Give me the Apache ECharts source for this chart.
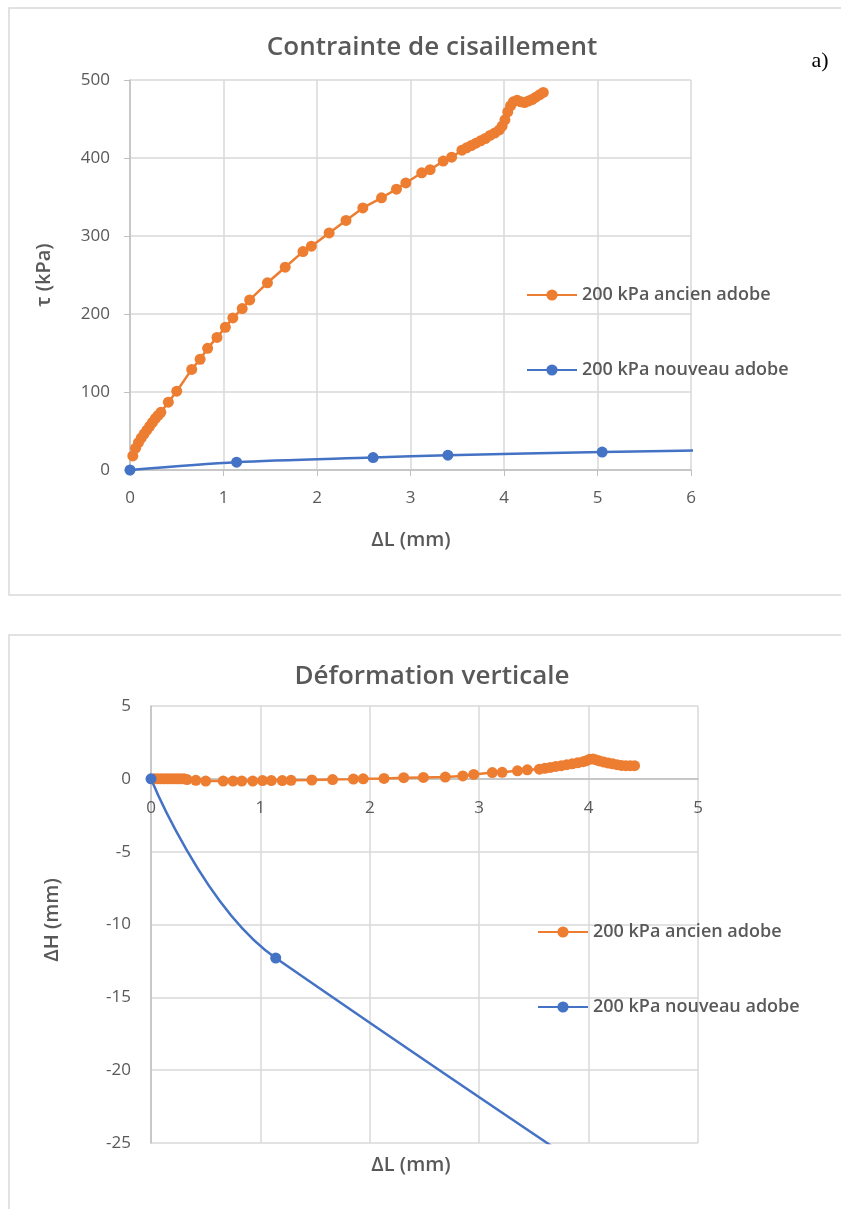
<!DOCTYPE html>
<html>
<head>
<meta charset="utf-8">
<title>Contrainte de cisaillement / Déformation verticale</title>
<script src="https://cdn.jsdelivr.net/npm/echarts@6/dist/echarts.min.js"></script>
<style>
  html, body { margin: 0; padding: 0; background: #fff; }
  #chart { width: 841px; height: 1209px; }
</style>
</head>
<body>
<div id="chart"></div>
<script>
// Séries : même essai, ΔL commun pour l'ancien adobe
const seriesNames = ['200 kPa ancien adobe', '200 kPa nouveau adobe'];

const ancienDL = [0.03, 0.06, 0.09, 0.12, 0.15, 0.18, 0.21, 0.24, 0.27, 0.30, 0.33, 0.41, 0.50,
  0.66, 0.75, 0.83, 0.93, 1.02, 1.10, 1.20, 1.28,
  1.47, 1.66, 1.85, 1.94, 2.13, 2.31, 2.49, 2.69, 2.85, 2.95, 3.12, 3.21, 3.35, 3.44,
  3.55, 3.60, 3.65, 3.70, 3.75, 3.80, 3.85, 3.90, 3.95,
  3.98, 4.01, 4.04, 4.07, 4.10,
  4.14, 4.18, 4.22, 4.26, 4.30, 4.34, 4.38, 4.42];

const ancienTau = [18, 28, 35, 41, 46, 51, 56, 61, 66, 70, 74, 87, 101,
  129, 142, 156, 170, 183, 195, 207, 218,
  240, 260, 280, 287, 304, 320, 336, 349, 360, 368, 381, 385, 396, 401,
  410, 413, 416, 419, 422, 425, 429, 432, 436,
  441, 449, 459, 467, 472,
  474, 472, 471, 473, 475, 478, 481, 484];

const ancienDH = [0, 0, 0, 0, 0, 0, 0, 0, 0, 0, -0.05, -0.1, -0.15,
  -0.15, -0.15, -0.15, -0.15, -0.12, -0.12, -0.12, -0.1,
  -0.08, -0.05, -0.02, 0, 0.03, 0.08, 0.1, 0.12, 0.2, 0.3, 0.43, 0.45, 0.55, 0.62,
  0.66, 0.72, 0.78, 0.85, 0.9, 0.97, 1.03, 1.1, 1.18,
  1.25, 1.35, 1.37, 1.3, 1.23,
  1.15, 1.08, 1.03, 0.97, 0.92, 0.9, 0.9, 0.9];

// nouveau adobe (le dernier point sort du cadre)
const nouveauDL1 = [0, 1.14, 2.6, 3.4, 5.05, 7.0];
const nouveauTau = [0, 10, 16, 19, 23, 26.7];
const nouveauDL2 = [0, 1.14, 20];
const nouveauDH = [0, -12.3, -104];

const tauTicks = { min: 0, max: 500, interval: 100 };
const dlTicks1 = { min: 0, max: 6, interval: 1 };
const dhTicks = { min: -25, max: 5, interval: 5 };
const dlTicks2 = { min: 0, max: 5, interval: 1 };

const ORANGE = '#ED7D31';
const BLUE = '#4472C4';
const GREY_TEXT = '#595959';
const GRID_LINE = '#d9d9d9';
const FONT = '"Open Sans", "Noto Sans", sans-serif';

const zip = (xs, ys) => xs.map((x, i) => [x, ys[i]]);

const chart = echarts.init(document.getElementById('chart'), null, { renderer: 'canvas' });

// grille 2 : 437 px pour 30 mm ; l'axe ΔL passe par ΔH = 0
const grid2Top = 706;
const grid2Height = 437;
const zeroOffset2 = grid2Height * (dhTicks.max - 0) / (dhTicks.max - dhTicks.min);

const axisLabel = { color: GREY_TEXT, fontSize: 17, fontFamily: FONT };
const splitLine = { show: true, lineStyle: { color: GRID_LINE, width: 1.5 } };
const axisLine = { show: true, lineStyle: { color: '#bfbfbf', width: 1.5 } };

const boldText = (x, y, text, size, rotation) => ({
  type: 'text',
  x: x, y: y,
  rotation: rotation || 0,
  style: {
    text: text,
    fill: GREY_TEXT,
    font: `600 ${size}px ${FONT}`,
    textAlign: 'center',
    textVerticalAlign: 'middle'
  }
});

const legendBase = {
  data: seriesNames, orient: 'vertical', itemGap: 55,
  itemWidth: 50, itemHeight: 14, selectedMode: false, padding: 0,
  textStyle: { color: GREY_TEXT, fontSize: 18, lineHeight: 20, fontWeight: 600, fontFamily: FONT }
};

const option = {
  animation: false,
  backgroundColor: '#fff',
  graphic: [
    // cadres
    { type: 'rect', shape: { x: 9, y: 8, width: 860, height: 587 },
      style: { fill: 'none', stroke: '#d9d9d9', lineWidth: 1.5 } },
    { type: 'rect', shape: { x: 9, y: 635, width: 860, height: 620 },
      style: { fill: 'none', stroke: '#d9d9d9', lineWidth: 1.5 } },
    boldText(432, 48, 'Contrainte de cisaillement', 26),
    boldText(432, 677, 'Déformation verticale', 26),
    boldText(411, 540, 'ΔL (mm)', 20),
    boldText(411, 1165, 'ΔL (mm)', 20),
    boldText(44, 275, 'τ (kPa)', 20, Math.PI / 2),
    boldText(52, 920, 'ΔH (mm)', 20, Math.PI / 2),
    {
      type: 'text', x: 820, y: 61,
      style: { text: 'a)', fill: '#000', font: '22px "Liberation Serif", serif',
        textAlign: 'center', textVerticalAlign: 'middle' }
    }
  ],
  grid: [
    { left: 130, top: 80, width: 561, height: 390 },
    { left: 151, top: grid2Top, width: 547, height: grid2Height },
    // bande 0..5 de la grille 2 : porte l'axe ΔL au niveau de ΔH = 0
    { left: 151, top: grid2Top, width: 547, height: zeroOffset2 }
  ],
  xAxis: [
    {
      type: 'value', gridIndex: 0, ...dlTicks1,
      axisLine: axisLine,
      axisTick: { show: true, length: 6, lineStyle: { color: '#bfbfbf' } },
      axisLabel: { ...axisLabel, margin: 20 },
      splitLine: splitLine
    },
    {
      type: 'value', gridIndex: 1, ...dlTicks2,
      axisLine: { show: false },
      axisTick: { show: false },
      axisLabel: { show: false },
      splitLine: splitLine
    },
    {
      type: 'value', gridIndex: 2, ...dlTicks2,
      axisLine: { ...axisLine, onZero: false },
      axisTick: { show: false },
      axisLabel: { ...axisLabel, margin: 21 },
      splitLine: { show: false }
    }
  ],
  yAxis: [
    {
      type: 'value', gridIndex: 0, ...tauTicks,
      axisLine: axisLine,
      axisTick: { show: true, length: 6, lineStyle: { color: '#bfbfbf' } },
      axisLabel: { ...axisLabel, margin: 20 },
      splitLine: splitLine
    },
    {
      type: 'value', gridIndex: 1, ...dhTicks,
      axisLine: { ...axisLine, onZero: false },
      axisTick: { show: false },
      axisLabel: { ...axisLabel, margin: 20 },
      splitLine: splitLine
    },
    {
      type: 'value', gridIndex: 2, min: 0, max: dhTicks.max, show: false
    }
  ],
  legend: [
    { ...legendBase, left: 526, top: 285 },
    { ...legendBase, left: 537, top: 922 }
  ],
  series: [
    {
      name: seriesNames[0], type: 'line', xAxisIndex: 0, yAxisIndex: 0,
      data: zip(ancienDL, ancienTau),
      symbol: 'circle', symbolSize: 11, showAllSymbol: true,
      itemStyle: { color: ORANGE }, lineStyle: { color: ORANGE, width: 2.5 }
    },
    {
      name: seriesNames[1], type: 'line', xAxisIndex: 0, yAxisIndex: 0,
      data: zip(nouveauDL1, nouveauTau), smooth: 0.3,
      symbol: 'circle', symbolSize: 11,
      itemStyle: { color: BLUE }, lineStyle: { color: BLUE, width: 2.5 }
    },
    {
      name: seriesNames[0], type: 'line', xAxisIndex: 1, yAxisIndex: 1,
      data: zip(ancienDL, ancienDH),
      symbol: 'circle', symbolSize: 11, showAllSymbol: true,
      itemStyle: { color: ORANGE }, lineStyle: { color: ORANGE, width: 2.5 }
    },
    {
      name: seriesNames[1], type: 'line', xAxisIndex: 1, yAxisIndex: 1,
      data: zip(nouveauDL2, nouveauDH), smooth: 0.4,
      symbol: 'circle', symbolSize: 11,
      itemStyle: { color: BLUE }, lineStyle: { color: BLUE, width: 2.5 }
    }
  ]
};

chart.setOption(option);
</script>
</body>
</html>
